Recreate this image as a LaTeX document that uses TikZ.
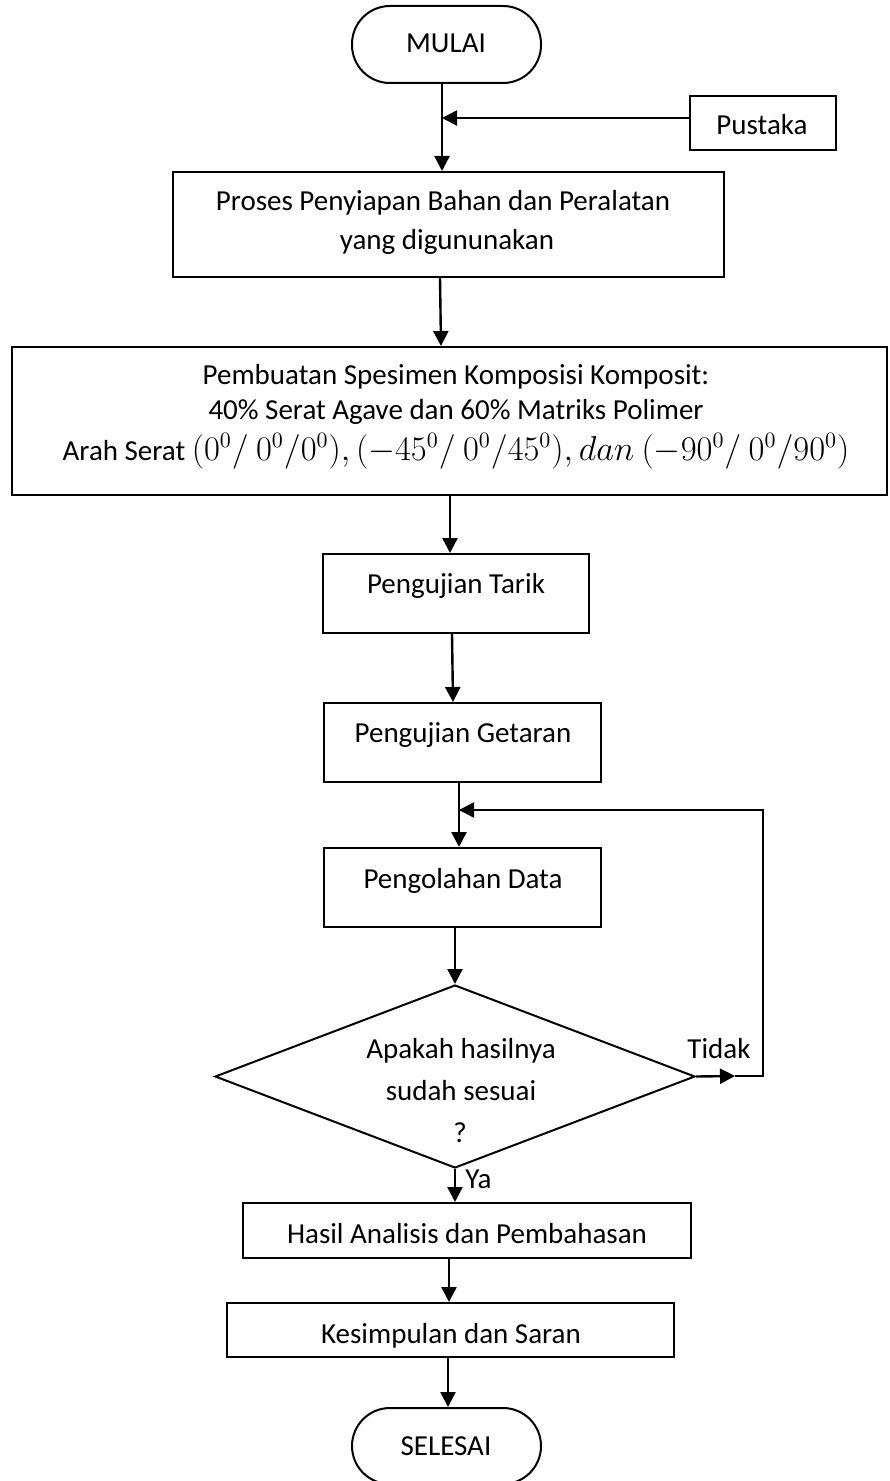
\documentclass[tikz,border=0pt]{standalone}
\usepackage[no-math]{fontspec}
\setmainfont{Carlito}
\usetikzlibrary{arrows.meta,fit,shapes.geometric}
\begin{document}
\begin{tikzpicture}[x=0.5pt,y=-0.5pt,
  every node/.style={font=\fontsize{14.5}{18}\selectfont},
  box/.style={draw,line width=1pt,inner sep=0pt,rectangle},
  term/.style={draw,line width=1pt,inner sep=0pt,rectangle,rounded corners=19pt},
  txt/.style={anchor=base,inner sep=0pt},
  arr/.style={line width=1.2pt,-{Triangle[length=7.5pt,width=7.5pt]}},
  ln/.style={line width=1.2pt}]
\useasboundingbox (0,0) rectangle (889,1481);
% shapes
\node[term,fit={(352,6)(541,83)}] (mulai) {};
\node[txt] (tmulai) at (446,53) {MULAI};
\node[box,fit={(690,96)(836,150)}] (pustaka) {};
\node[txt] (tpustaka) at (762,135) {Pustaka};
\node[box,fit={(173,172)(724,277)}] (proses) {};
\node[txt] (tproses1) at (443,211) {Proses Penyiapan Bahan dan Peralatan};
\node[txt] (tproses2) at (447,250) {yang digununakan};
\node[box,fit={(12,347)(887,495)}] (buat) {};
\node[txt] (tbuat1) at (456,384) {Pembuatan Spesimen Komposisi Komposit:};
\node[txt] (tbuat2) at (456,419) {40\% Serat Agave dan 60\% Matriks Polimer};
\node[txt] (tbuat3) at (456,460) {Arah Serat {\fontsize{16.2}{18}\selectfont$(0^0/\ 0^0/0^0),(-45^0/\ 0^0/45^0),dan\ (-90^0/\ 0^0/90^0)$}};
\node[box,fit={(323,554)(589,633)}] (tarik) {};
\node[txt] (ttarik) at (456,593) {Pengujian Tarik};
\node[box,fit={(324,703)(601,782)}] (getaran) {};
\node[txt] (tgetaran) at (463,742) {Pengujian Getaran};
\node[box,fit={(324,848)(601,927)}] (olah) {};
\node[txt] (tolah) at (463,888) {Pengolahan Data};
\node[diamond,draw,line width=1pt,inner sep=0pt,minimum width=240pt,minimum height=91.5pt] (cek) at (455,1076.5) {};
\node[txt] (tcek1) at (461,1058) {Apakah hasilnya};
\node[txt] (tcek2) at (461,1100) {sudah sesuai};
\node[txt] (tcek3) at (460,1142) {?};
\node[txt] (ttidak) at (719,1058) {Tidak};
\node[txt,anchor=base west] (tya) at (465,1188) {Ya};
\node[box,fit={(243,1203)(691,1258)}] (hasil) {};
\node[txt] (thasil) at (467,1243) {Hasil Analisis dan Pembahasan};
\node[box,fit={(227,1303)(674,1357)}] (simpul) {};
\node[txt] (tsimpul) at (451,1343) {Kesimpulan dan Saran};
\node[term,fit={(352,1408)(541,1484)}] (selesai) {};
\node[txt] (tselesai) at (446,1455) {SELESAI};
% connectors
\coordinate (j1) at (442,118);
\draw[arr] (mulai.south -| 442,0) -- (proses.north -| 442,0);
\draw[arr] (pustaka.west |- j1) -- (j1);
\draw[arr] (proses.south -| 440,0) -- (buat.north -| 441,0);
\draw[arr] (buat.south -| 450,0) -- (tarik.north -| 450,0);
\draw[arr] (tarik.south -| 452,0) -- (getaran.north -| 453,0);
\draw[arr] (getaran.south -| 459,0) -- (olah.north -| 459,0);
\draw[arr] (olah.south -| 455,0) -- (cek.north);
\draw[arr] (cek.south) -- (hasil.north -| 455,0);
\draw[arr] (hasil.south -| 449,0) -- (simpul.north -| 449,0);
\draw[arr] (simpul.south -| 448,0) -- (selesai.north -| 448,0);
% feedback loop
\coordinate (fb1) at (763,1076);
\coordinate (fb2) at (763,810);
\coordinate (fb3) at (459,810);
\coordinate (fbm) at (735,1076);
\draw[arr] (cek.east) -- (fbm);
\draw[ln] (fbm) -- (fb1) -- (fb2) -- (fb3);
\draw[arr] (fb2) -- (fb3);
\end{tikzpicture}
\end{document}
